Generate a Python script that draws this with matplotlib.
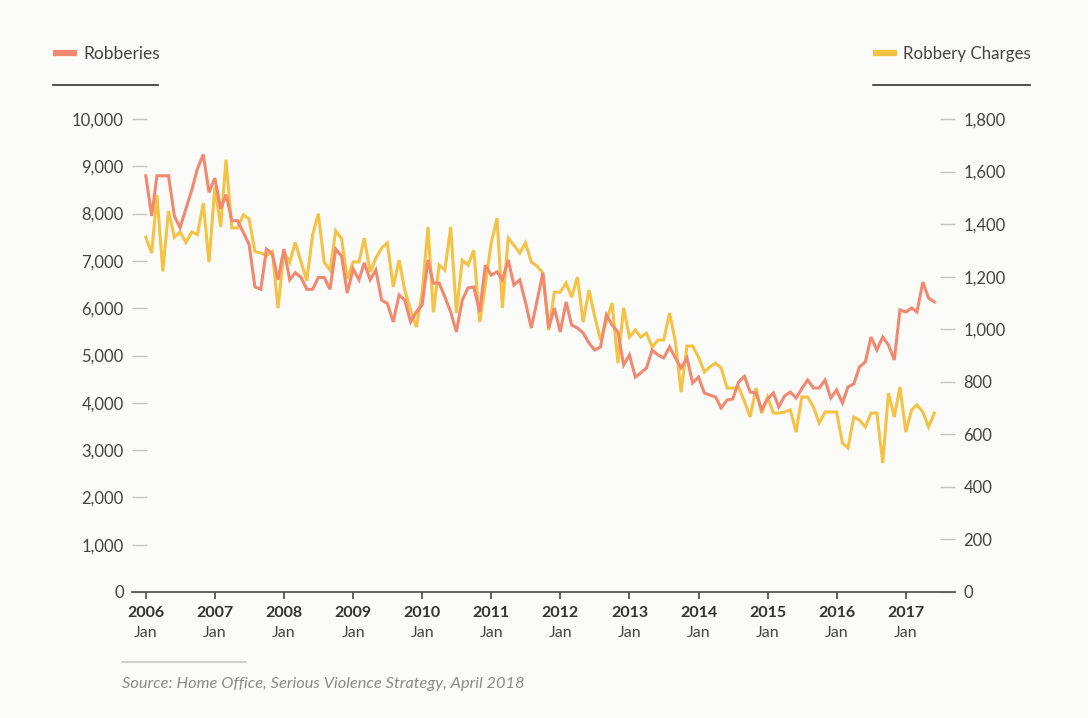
import matplotlib
matplotlib.use("Agg")
import matplotlib.pyplot as plt
from matplotlib.lines import Line2D
import pandas as pd

plt.rcParams['font.family'] = ['Lato', 'DejaVu Sans']

# ---- data (monthly, Jan 2006 - Jun 2017) ----
start_month = '2006-01-01'
robberies = [
    8800, 7950, 8800, 8800, 8800, 7950, 7700, 8100, 8500, 8950, 9250, 8450,
    8750, 8100, 8400, 7850, 7850, 7600, 7350, 6450, 6400, 7250, 7150, 6600,
    7250, 6600, 6750, 6650, 6400, 6400, 6650, 6650, 6400, 7250, 7100, 6320,
    6830, 6600, 6960, 6600, 6810, 6170, 6100, 5710, 6280, 6170, 5710, 5920,
    6070, 7020, 6530, 6530, 6240, 5920, 5500, 6170, 6430, 6450, 5920, 6910,
    6700, 6770, 6600, 7020, 6490, 6600, 6130, 5580, 6170, 6744, 5581, 6004,
    5497, 6131, 5645, 5581, 5476, 5264, 5116, 5180, 5856, 5645, 5497, 4799,
    5011, 4545, 4630, 4736, 5116, 5011, 4947, 5180, 4947, 4736, 4947, 4419,
    4545, 4207, 4165, 4123, 3890, 4059, 4080, 4440, 4560, 4228, 4207, 3848,
    4080, 4207, 3911, 4144, 4228, 4101, 4300, 4482, 4313, 4313, 4482, 4101,
    4271, 3996, 4334, 4400, 4760, 4863, 5391, 5116, 5391, 5222, 4905, 5962,
    5920, 6004, 5920, 6554, 6216, 6131,
]
robbery_charges = [
    1350, 1290, 1510, 1220, 1450, 1350, 1370, 1330, 1370, 1360, 1480, 1255,
    1540, 1390, 1645, 1385, 1385, 1435, 1420, 1295, 1290, 1280, 1295, 1080,
    1295, 1255, 1330, 1255, 1185, 1360, 1440, 1255, 1225, 1375, 1345, 1190,
    1256, 1256, 1347, 1218, 1270, 1309, 1328, 1161, 1263, 1149, 1073, 1008,
    1138, 1389, 1065, 1244, 1225, 1389, 1062, 1263, 1244, 1301, 1027, 1168,
    1328, 1423, 1081, 1347, 1320, 1290, 1328, 1256, 1240, 1214, 997, 1141,
    1141, 1176, 1122, 1199, 1027, 1149, 1050, 959, 1030, 1100, 871, 1081,
    970, 997, 970, 985, 932, 959, 959, 1062, 951, 761, 936, 936,
    894, 837, 856, 871, 852, 776, 776, 780, 725, 666, 776, 681,
    742, 681, 681, 685, 693, 609, 742, 742, 704, 643, 685, 685,
    685, 567, 548, 666, 654, 628, 681, 681, 491, 757, 666, 780,
    609, 693, 712, 685, 628, 681,
]
year_labels = [str(y) for y in range(2006, 2018)]
left_ticks = list(range(0, 10001, 1000))
right_ticks = list(range(0, 1801, 200))

RED = '#F0896F'
YELLOW = '#F4C345'
BG = '#FBFBFA'
TXT = '#444444'

dates = pd.date_range(start_month, periods=len(robberies), freq='MS')

W, H = 1088, 718
fig = plt.figure(figsize=(W / 100, H / 100), dpi=100, facecolor=BG)

def fx(x):
    return x / W

def fy(y):
    return 1 - y / H

ax = fig.add_axes([fx(132), fy(592), fx(955) - fx(132), fy(119) - fy(592)])
ax.set_facecolor('none')
ax2 = ax.twinx()

ax.plot(dates, robberies, color=RED, lw=2.2, solid_joinstyle='miter', zorder=3)
ax2.plot(dates, robbery_charges, color=YELLOW, lw=2.2, solid_joinstyle='miter', zorder=2)
ax.set_zorder(ax2.get_zorder() + 1)

x0 = pd.Timestamp(start_month) - pd.Timedelta(days=73)
x1 = pd.Timestamp(start_month) + pd.Timedelta(days=4278)
ax.set_xlim(x0, x1)
ax.set_ylim(0, 10000)
ax2.set_ylim(0, 1800)

for a in (ax, ax2):
    for s in a.spines.values():
        s.set_visible(False)
ax.spines['bottom'].set_visible(True)
ax.spines['bottom'].set_color('#555555')
ax.spines['bottom'].set_linewidth(1.3)

ax.set_yticks(left_ticks)
ax.set_yticklabels([f'{v:,}' for v in left_ticks])
ax2.set_yticks(right_ticks)
ax2.set_yticklabels([f'{v:,}' for v in right_ticks])
ax.tick_params(axis='y', direction='in', length=11, width=1.0, color='#c4c4c4',
               pad=6, labelsize=12, labelcolor=TXT)
ax2.tick_params(axis='y', direction='in', length=11, width=1.0, color='#c4c4c4',
                pad=6, labelsize=12, labelcolor=TXT)

year_dates = [pd.Timestamp(f'{y}-01-01') for y in year_labels]
ax.set_xticks(year_dates)
ax.set_xticklabels(year_labels, fontweight='bold')
ax.tick_params(axis='x', direction='out', length=5, width=1.3, color='#555555',
               pad=5, labelsize=11.5, labelcolor='#333333')
for d in year_dates:
    ax.annotate('Jan', xy=(d, 0), xycoords=('data', 'axes fraction'),
                xytext=(0, -29.5), textcoords='offset points', ha='center', va='center',
                fontsize=11.5, color=TXT)

# legend headers
fig.add_artist(Line2D([fx(53), fx(77)], [fy(53), fy(53)], color=RED, lw=4.5,
                      solid_capstyle='butt'))
fig.text(fx(83), fy(54), 'Robberies', fontsize=12.5, color=TXT, va='center', ha='left')
fig.add_artist(Line2D([fx(53), fx(158)], [fy(85), fy(85)], color='#333333', lw=1.2))

fig.add_artist(Line2D([fx(873), fx(897)], [fy(53), fy(53)], color=YELLOW, lw=4.5,
                      solid_capstyle='butt'))
fig.text(fx(903), fy(54), 'Robbery Charges', fontsize=12.2, color=TXT, va='center', ha='left')
fig.add_artist(Line2D([fx(873), fx(1030)], [fy(85), fy(85)], color='#333333', lw=1.2))

# source
fig.add_artist(Line2D([fx(122), fx(246)], [fy(662), fy(662)], color='#c8c8c8', lw=1.2))
fig.text(fx(122), fy(684), 'Source: Home Office, Serious Violence Strategy, April 2018',
         fontsize=11.8, color='#8a8a8a', style='italic', va='center', ha='left')

fig.savefig('out.png', dpi=100, facecolor=BG)
